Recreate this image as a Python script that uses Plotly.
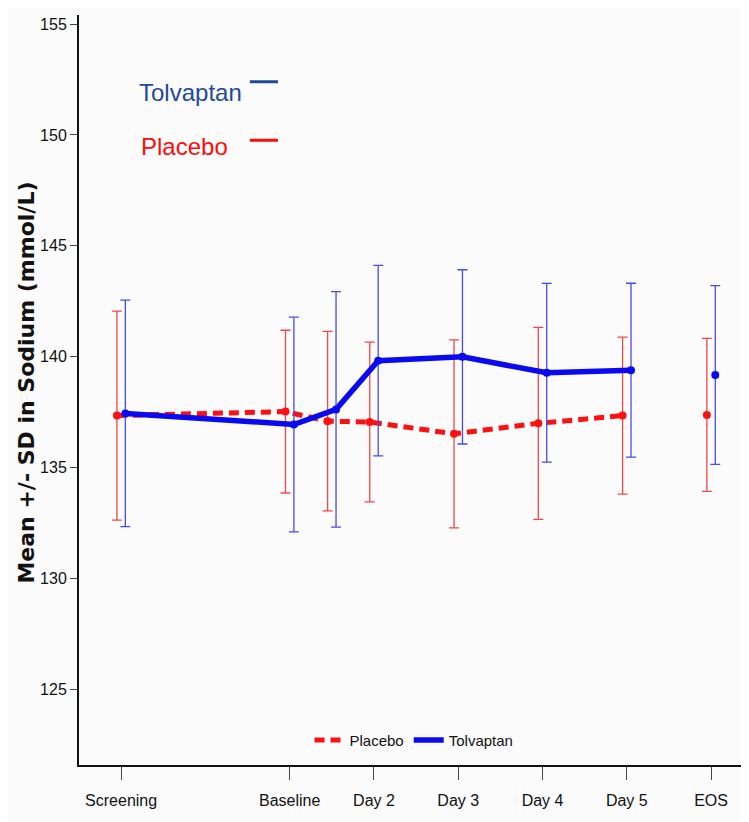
import plotly.graph_objects as go

# ---- data ----
visit_pos = [0, 2, 2.5, 3, 4, 5, 6, 7]
tick_pos = [0, 2, 3, 4, 5, 6, 7]
tick_labels = ["Screening", "Baseline", "Day 2", "Day 3", "Day 4", "Day 5", "EOS"]
y_ticks = [125, 130, 135, 140, 145, 150, 155]

placebo_mean = [137.34, 137.52, 137.09, 137.05, 136.52, 136.99, 137.34, 137.37]
placebo_sd = [4.71, 3.67, 4.05, 3.60, 4.24, 4.33, 3.54, 3.45]
tolvaptan_mean = [137.44, 136.94, 137.62, 139.82, 139.99, 139.27, 139.39, 139.17]
tolvaptan_sd = [5.11, 4.84, 5.31, 4.30, 3.93, 4.03, 3.92, 4.03]

n_connected = 7  # Screening..Day 5 connected by lines; EOS stands alone
offset = 0.05

RED = "#FF1010"
BLUE = "#0A0AF0"
RED_EB = "#F04848"
BLUE_EB = "#4A4AE8"
SANS = "Liberation Sans, Arial, sans-serif"

xp = [v - offset for v in visit_pos]
xt = [v + offset for v in visit_pos]

fig = go.Figure()

fig.add_trace(go.Scatter(
    x=xp[:n_connected], y=placebo_mean[:n_connected], mode="lines",
    line=dict(color=RED, width=5, dash="10px,6px"), name="Placebo"))
fig.add_trace(go.Scatter(
    x=xp, y=placebo_mean, mode="markers", showlegend=False,
    marker=dict(color=RED, size=8),
    error_y=dict(type="data", array=placebo_sd, color=RED_EB, thickness=1.3, width=5)))

fig.add_trace(go.Scatter(
    x=xt[:n_connected], y=tolvaptan_mean[:n_connected], mode="lines",
    line=dict(color=BLUE, width=5.5), name="Tolvaptan"))
fig.add_trace(go.Scatter(
    x=xt, y=tolvaptan_mean, mode="markers", showlegend=False,
    marker=dict(color=BLUE, size=8),
    error_y=dict(type="data", array=tolvaptan_sd, color=BLUE_EB, thickness=1.3, width=5)))

# page body has an 8px default margin: figure is shrunk so the plot area lands where the reference has it
fig.update_layout(
    width=741, height=814,
    margin=dict(l=71, r=0, t=7, b=57),
    paper_bgcolor="#FBFBFB", plot_bgcolor="#FBFBFB",
    font=dict(family=SANS, size=15, color="#111111"),
    showlegend=True,
    legend=dict(orientation="h", x=0.5, xanchor="center", y=0.033, yanchor="middle",
                bgcolor="rgba(0,0,0,0)", font=dict(size=15, family=SANS),
                traceorder="normal"),
    xaxis=dict(range=[-0.5, 7.45], tickmode="array", tickvals=tick_pos, ticktext=tick_labels,
               showgrid=False, zeroline=False, showline=True, linecolor="#111111", linewidth=2,
               ticks="outside", ticklen=13, tickwidth=1, tickcolor="#444444",
               ticklabelstandoff=7,
               tickfont=dict(size=16, family=SANS), automargin=False),
    yaxis=dict(range=[121.58, 155.41], tickmode="array", tickvals=y_ticks,
               showgrid=False, zeroline=False, showline=True, linecolor="#111111", linewidth=2,
               ticks="outside", ticklen=7, tickwidth=1, tickcolor="#444444",
               tickfont=dict(size=16, family=SANS), automargin=False),
)

# y-axis title
fig.add_annotation(xref="paper", yref="paper", x=-0.079, y=0.51, textangle=-90,
                   text="<b>Mean +/- SD in Sodium (mmol/L)</b>", showarrow=False,
                   xanchor="center", yanchor="middle",
                   font=dict(family="DejaVu Sans, sans-serif", size=22, color="#111111"))

# Top-left key
fig.add_annotation(xref="paper", yref="paper", x=0.167, y=0.897, text="Tolvaptan",
                   xanchor="center", yanchor="middle",
                   showarrow=False, font=dict(family=SANS, size=24, color="#1E4A98"))
fig.add_annotation(xref="paper", yref="paper", x=0.157, y=0.825, text="Placebo",
                   xanchor="center", yanchor="middle",
                   showarrow=False, font=dict(family=SANS, size=24, color="#FF0A0A"))
fig.add_shape(type="line", xref="paper", yref="paper", x0=0.255, x1=0.297, y0=0.911, y1=0.911,
              line=dict(color="#1E4A98", width=3))
fig.add_shape(type="line", xref="paper", yref="paper", x0=0.255, x1=0.297, y0=0.833, y1=0.833,
              line=dict(color="#FF0A0A", width=3))

fig.write_html("out.html")
